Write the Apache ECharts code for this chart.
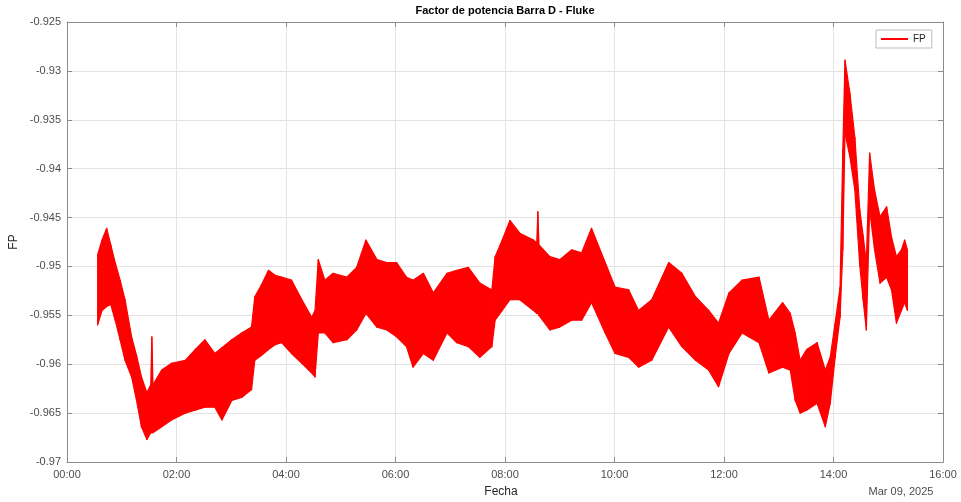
<!DOCTYPE html>
<html>
<head>
<meta charset="utf-8">
<script src="https://cdn.jsdelivr.net/npm/echarts@6/dist/echarts.min.js"></script>
<style>html,body{margin:0;padding:0;background:#fff}#c{width:961px;height:502px}</style>
</head>
<body>
<div id="c"></div>
<script>
// Time of day in hours
const fpTime = [0.56,0.64,0.725,0.80,0.88,0.97,1.06,1.18,1.27,1.36,1.46,1.53,1.55,1.57,1.73,1.91,2.16,2.34,2.52,2.70,2.83,3.01,3.19,3.37,3.43,3.55,3.68,3.80,3.92,4.10,4.29,4.47,4.53,4.59,4.71,4.86,5.11,5.29,5.46,5.66,5.84,6.02,6.20,6.32,6.51,6.69,6.94,7.12,7.33,7.54,7.76,7.82,7.95,8.09,8.27,8.52,8.58,8.60,8.62,8.82,9.00,9.22,9.40,9.58,9.83,10.01,10.26,10.44,10.68,10.99,11.23,11.48,11.72,11.90,12.09,12.33,12.64,12.82,13.07,13.21,13.30,13.39,13.51,13.70,13.85,13.94,14.03,14.12,14.17,14.21,14.30,14.39,14.48,14.54,14.60,14.66,14.75,14.85,14.97,15.06,15.15,15.24,15.30,15.35];
// Upper envelope of FP
const fpHigh = [-0.9488,-0.9473,-0.9461,-0.9478,-0.9496,-0.9514,-0.9534,-0.9572,-0.9591,-0.9613,-0.9629,-0.9621,-0.9572,-0.9621,-0.9606,-0.9599,-0.9596,-0.9585,-0.9575,-0.9589,-0.9583,-0.9575,-0.9568,-0.9562,-0.9531,-0.9519,-0.9504,-0.9509,-0.9511,-0.9514,-0.9534,-0.9552,-0.9545,-0.9493,-0.9514,-0.9507,-0.9511,-0.9501,-0.9473,-0.9493,-0.9496,-0.9496,-0.9511,-0.9514,-0.9507,-0.9527,-0.9507,-0.9504,-0.9501,-0.9517,-0.9524,-0.9490,-0.9473,-0.9453,-0.9466,-0.9473,-0.9476,-0.9444,-0.9478,-0.9490,-0.9493,-0.9483,-0.9486,-0.9461,-0.9496,-0.9521,-0.9524,-0.9545,-0.9534,-0.9496,-0.9507,-0.9531,-0.9545,-0.9558,-0.9527,-0.9514,-0.9511,-0.9555,-0.9537,-0.9548,-0.9568,-0.9596,-0.9585,-0.9578,-0.9606,-0.9593,-0.9558,-0.9521,-0.9381,-0.9289,-0.9323,-0.9368,-0.9442,-0.9468,-0.9496,-0.9384,-0.9422,-0.9449,-0.9439,-0.9470,-0.9490,-0.9483,-0.9473,-0.9483];
// Lower envelope of FP
const fpLow = [-0.9560,-0.9545,-0.9541,-0.9539,-0.9555,-0.9575,-0.9596,-0.9613,-0.9637,-0.9664,-0.9677,-0.9670,-0.9670,-0.9670,-0.9664,-0.9657,-0.9650,-0.9647,-0.9644,-0.9644,-0.9657,-0.9637,-0.9634,-0.9626,-0.9596,-0.9591,-0.9585,-0.9580,-0.9578,-0.9589,-0.9599,-0.9609,-0.9613,-0.9568,-0.9568,-0.9578,-0.9575,-0.9565,-0.9548,-0.9562,-0.9565,-0.9572,-0.9582,-0.9603,-0.9589,-0.9596,-0.9568,-0.9578,-0.9582,-0.9593,-0.9582,-0.9555,-0.9545,-0.9534,-0.9534,-0.9545,-0.9548,-0.9548,-0.9550,-0.9565,-0.9562,-0.9555,-0.9555,-0.9537,-0.9568,-0.9589,-0.9593,-0.9603,-0.9596,-0.9562,-0.9582,-0.9596,-0.9606,-0.9623,-0.9589,-0.9568,-0.9578,-0.9609,-0.9603,-0.9606,-0.9637,-0.9650,-0.9647,-0.9640,-0.9664,-0.9640,-0.9593,-0.9552,-0.9483,-0.9364,-0.9388,-0.9422,-0.9499,-0.9534,-0.9565,-0.9442,-0.9483,-0.9517,-0.9511,-0.9524,-0.9558,-0.9545,-0.9537,-0.9545];
// Axis tick labels
const xTickLabels = ['00:00','02:00','04:00','06:00','08:00','10:00','12:00','14:00','16:00'];

const chart = echarts.init(document.getElementById('c'));
const FONT = '"Liberation Sans", Arial, sans-serif';
const axisGray = '#8c8c8c';
const labelGray = '#4d4d4d';
const RED = '#ff0000';

const bandData = fpTime.map((t, i) => [t, fpHigh[i], fpLow[i]]);

function renderBand(params, api) {
  const i = params.dataIndex;
  if (i >= fpTime.length - 1) return null;
  const p1 = api.coord([api.value(0, i), api.value(1, i)]);
  const p2 = api.coord([api.value(0, i + 1), api.value(1, i + 1)]);
  const p3 = api.coord([api.value(0, i + 1), api.value(2, i + 1)]);
  const p4 = api.coord([api.value(0, i), api.value(2, i)]);
  return {
    type: 'polygon',
    shape: { points: [p1, p2, p3, p4] },
    style: { fill: RED, stroke: RED, lineWidth: 1.2, lineJoin: 'round' },
    silent: true
  };
}

chart.setOption({
  animation: false,
  backgroundColor: '#ffffff',
  textStyle: { fontFamily: FONT },
  grid: { left: 67, right: 18, top: 22, bottom: 40, containLabel: false },
  legend: {
    data: ['FP'],
    left: 876, top: 30,
    icon: 'rect', itemWidth: 27, itemHeight: 2, itemGap: 4,
    padding: [4, 6, 4, 5],
    borderColor: '#bdbdbd', borderWidth: 1, backgroundColor: '#ffffff',
    textStyle: { fontSize: 10, color: '#262626', fontFamily: FONT }
  },
  xAxis: [{
    type: 'value', min: 0, max: 16, interval: 2,
    axisLine: { show: true, onZero: false, lineStyle: { color: axisGray } },
    axisTick: { show: true, inside: true, length: 5, lineStyle: { color: axisGray } },
    axisLabel: { color: labelGray, fontSize: 11, margin: 7, fontFamily: FONT,
      formatter: v => xTickLabels[Math.round(v / 2)] },
    splitLine: { show: true, lineStyle: { color: '#e4e4e4' } }
  }, {
    type: 'value', min: 0, max: 16, interval: 2, position: 'top',
    axisLine: { show: true, onZero: false, lineStyle: { color: axisGray } },
    axisTick: { show: true, inside: true, length: 5, lineStyle: { color: axisGray } },
    axisLabel: { show: false }, splitLine: { show: false }
  }],
  yAxis: [{
    type: 'value', min: -0.97, max: -0.925, interval: 0.005,
    axisLine: { show: true, onZero: false, lineStyle: { color: axisGray } },
    axisTick: { show: true, inside: true, length: 5, lineStyle: { color: axisGray } },
    axisLabel: { color: labelGray, fontSize: 11, margin: 6, fontFamily: FONT,
      formatter: v => String(+v.toFixed(3)) },
    splitLine: { show: true, lineStyle: { color: '#e4e4e4' } }
  }, {
    type: 'value', min: -0.97, max: -0.925, interval: 0.005, position: 'right',
    axisLine: { show: true, onZero: false, lineStyle: { color: axisGray } },
    axisTick: { show: true, inside: true, length: 5, lineStyle: { color: axisGray } },
    axisLabel: { show: false }, splitLine: { show: false }
  }],
  series: [{
    name: 'FP', type: 'custom', data: bandData,
    encode: { x: 0, y: [1, 2] },
    renderItem: renderBand,
    itemStyle: { color: RED },
    clip: true, silent: true
  }],
  graphic: [
    { type: 'text', x: 505, y: 11, style: { text: 'Factor de potencia Barra D - Fluke', fill: '#000000',
      font: 'bold 11px ' + FONT, textAlign: 'center', textVerticalAlign: 'middle' } },
    { type: 'text', x: 501, y: 492, style: { text: 'Fecha', fill: '#262626',
      font: '12px ' + FONT, textAlign: 'center', textVerticalAlign: 'middle' } },
    { type: 'text', x: 901, y: 492, style: { text: 'Mar 09, 2025', fill: '#4d4d4d',
      font: '11px ' + FONT, textAlign: 'center', textVerticalAlign: 'middle' } },
    { type: 'text', x: 14, y: 242, rotation: Math.PI / 2, style: { text: 'FP', fill: '#262626',
      font: '12px ' + FONT, textAlign: 'center', textVerticalAlign: 'middle' } }
  ]
});
</script>
</body>
</html>
